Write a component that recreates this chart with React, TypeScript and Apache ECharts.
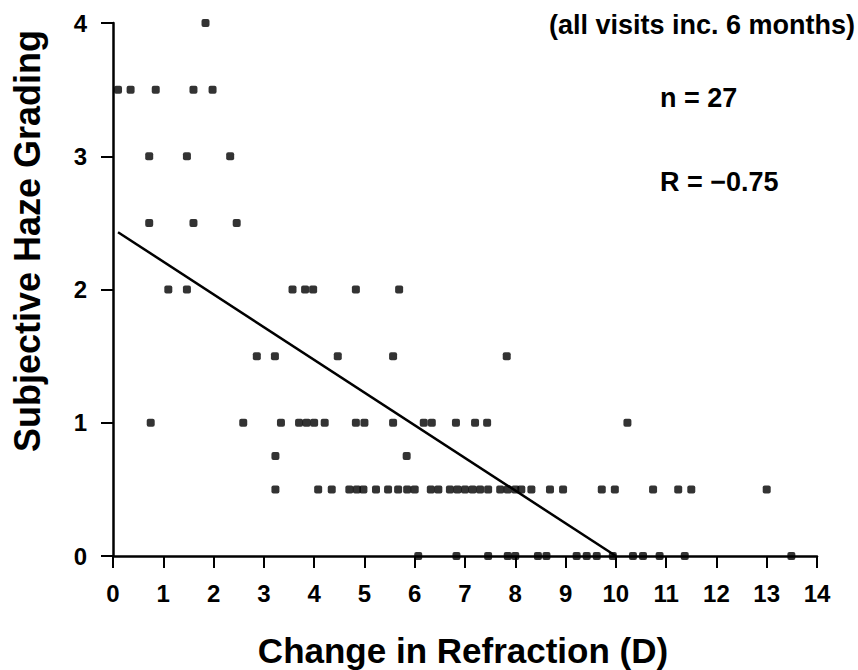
import React, { useEffect, useRef } from "react";
import * as echarts from "echarts";

// Change in refraction (D) of each visit, grouped by subjective haze grade
const grade4_0 = [1.84];
const grade3_5 = [0.1, 0.35, 0.85, 1.6, 1.98];
const grade3_0 = [0.72, 1.47, 2.33];
const grade2_5 = [0.72, 1.6, 2.46];
const grade2_0 = [1.1, 1.47, 3.57, 3.82, 3.98, 4.83, 5.69];
const grade1_5 = [2.86, 3.22, 4.47, 5.57, 7.83];
const grade1_0 = [0.75, 2.59, 3.34, 3.7, 3.85, 4.0, 4.21, 4.83, 5.0, 5.57, 6.18, 6.34, 6.82, 7.2, 7.44, 10.23];
const grade0_75 = [3.23, 5.84];
const grade0_5 = [
  3.23, 4.08, 4.35, 4.7, 4.85, 4.98, 5.23, 5.47, 5.67, 5.85, 6.0, 6.32, 6.47, 6.7, 6.85, 7.0, 7.15, 7.3,
  7.46, 7.7, 7.85, 8.0, 8.12, 8.32, 8.69, 8.95, 9.72, 9.98, 10.74, 11.24, 11.5, 13.0,
];
const grade0_0 = [6.07, 6.83, 7.46, 7.85, 8.0, 8.45, 8.62, 9.22, 9.42, 9.62, 9.94, 10.34, 10.54, 10.87, 11.37, 13.49];

const gradeLevels = [4, 3.5, 3, 2.5, 2, 1.5, 1, 0.75, 0.5, 0];
const gradeRows = [grade4_0, grade3_5, grade3_0, grade2_5, grade2_0, grade1_5, grade1_0, grade0_75, grade0_5, grade0_0];

// Regression line end points
const fitX = [0.1, 10];
const fitY = [2.43, 0];

const xTitle = "Change in Refraction (D)";
const yTitle = "Subjective Haze Grading";
const noteText = "(all visits inc. 6 months)";
const nText = "n = 27";
const rText = "R = \u22120.75";

const FONT = "Liberation Sans, Arial, sans-serif";

export default function App() {
  const ref = useRef<HTMLDivElement>(null);
  useEffect(() => {
    if (!ref.current) return;
    const chart = echarts.init(ref.current, undefined, { renderer: "svg" });
    const scatterData: number[][] = [];
    gradeRows.forEach((row, i) => row.forEach((x) => scatterData.push([x, gradeLevels[i]])));
    const fitData = fitX.map((x, i) => [x, fitY[i]]);
    const axisLabel = { color: "#000", fontSize: 24, fontWeight: "bold" as const, fontFamily: FONT };
    chart.setOption({
      animation: false,
      backgroundColor: "#fff",
      grid: { left: 113, right: 41, top: 23, bottom: 114, containLabel: false },
      xAxis: {
        type: "value",
        min: 0,
        max: 14,
        interval: 1,
        axisLine: { onZero: false, lineStyle: { color: "#000", width: 2.5 } },
        axisTick: { show: true, length: 12, lineStyle: { color: "#000", width: 2 } },
        splitLine: { show: false },
        axisLabel: { ...axisLabel, margin: 25 },
      },
      yAxis: {
        type: "value",
        min: 0,
        max: 4,
        interval: 1,
        axisLine: { show: true, onZero: false, lineStyle: { color: "#000", width: 2.5 } },
        axisTick: { show: true, length: 12, lineStyle: { color: "#000", width: 2 } },
        splitLine: { show: false },
        axisLabel: { ...axisLabel, margin: 26 },
      },
      series: [
        {
          type: "scatter",
          data: scatterData,
          symbol: "roundRect",
          symbolSize: 8,
          itemStyle: { color: "#000" },
          clip: false,
          z: 3,
        },
        {
          type: "line",
          data: fitData,
          symbol: "none",
          lineStyle: { color: "#000", width: 2.5 },
          z: 2,
        },
      ],
      graphic: [
        {
          type: "text",
          x: 463,
          y: 650,
          style: { text: xTitle, fill: "#000", font: `bold 35px ${FONT}`, align: "center", verticalAlign: "middle" },
        },
        {
          type: "text",
          x: 27,
          y: 241,
          rotation: Math.PI / 2,
          style: { text: yTitle, fill: "#000", font: `bold 36px ${FONT}`, align: "center", verticalAlign: "middle" },
        },
        {
          type: "text",
          x: 855,
          y: 25,
          style: { text: noteText, fill: "#000", font: `bold 27px ${FONT}`, align: "right", verticalAlign: "middle" },
        },
        {
          type: "text",
          x: 660,
          y: 98,
          style: { text: nText, fill: "#000", font: `bold 27px ${FONT}`, align: "left", verticalAlign: "middle" },
        },
        {
          type: "text",
          x: 660,
          y: 182,
          style: { text: rText, fill: "#000", font: `bold 27px ${FONT}`, align: "left", verticalAlign: "middle" },
        },
      ],
    });
    return () => chart.dispose();
  }, []);
  return <div ref={ref} style={{ position: "absolute", left: 0, top: 0, width: 858, height: 670 }} />;
}
